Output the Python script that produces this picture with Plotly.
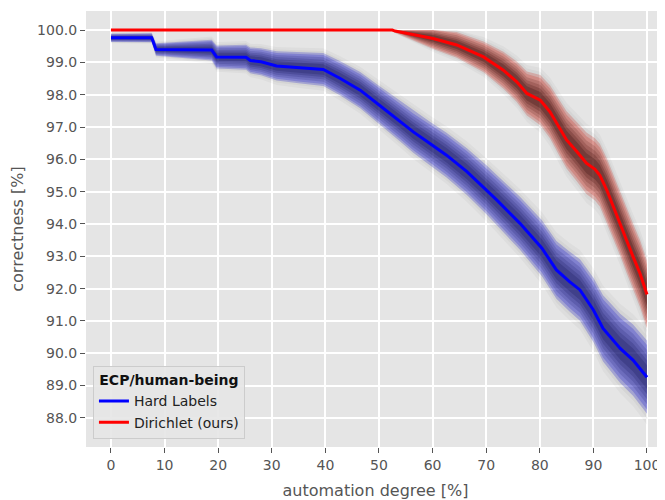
import numpy as np
import plotly.graph_objects as go

# ---- data ----
automation_hard = [0, 7.6, 8.4, 18.8, 19.7, 25.2, 26.0, 28.0, 30.9, 35.0, 39.6, 42.7, 46.5, 50.2,
                   53.9, 56.4, 59.5, 62.6, 66.4, 70.1, 72.0, 76.3, 80.4, 83.1, 85.6, 87.5, 90.0,
                   91.8, 95.0, 97.4, 100]
correct_hard = [99.76, 99.76, 99.40, 99.38, 99.17, 99.16, 99.06, 99.02, 98.89, 98.84, 98.78, 98.51,
                98.14, 97.66, 97.19, 96.85, 96.49, 96.13, 95.62, 95.05, 94.74, 94.02, 93.25, 92.58,
                92.21, 91.96, 91.34, 90.77, 90.15, 89.79, 89.26]
spread_hard = [0.12, 0.13, 0.18, 0.30, 0.33, 0.36, 0.37, 0.39, 0.42, 0.45, 0.47, 0.49, 0.52, 0.55,
               0.58, 0.60, 0.62, 0.64, 0.67, 0.70, 0.72, 0.76, 0.80, 0.83, 0.86, 0.88, 0.92, 0.95,
               0.99, 1.02, 1.05]

automation_dir = [0, 52.5, 53.0, 55.2, 60.1, 64.5, 69.5, 73.2, 75.7, 77.6, 80.1, 81.9, 83.8, 85.0,
                  86.9, 88.7, 90.3, 91.2, 92.5, 93.7, 95.0, 96.2, 97.4, 98.7, 99.7, 100]
correct_dir = [100, 100, 99.97, 99.90, 99.74, 99.54, 99.17, 98.76, 98.40, 98.04, 97.83, 97.47, 96.93,
               96.60, 96.24, 95.88, 95.69, 95.51, 95.05, 94.53, 94.02, 93.50, 92.99, 92.47, 91.95,
               91.82]
spread_dir = [0, 0.02, 0.05, 0.12, 0.30, 0.37, 0.44, 0.53, 0.58, 0.63, 0.72, 0.76, 0.80, 0.82, 0.85,
              0.88, 0.89, 0.90, 0.91, 0.92, 0.93, 0.94, 0.95, 0.96, 0.97, 0.97]

x_ticks = list(range(0, 101, 10))
y_ticks = [88.0 + i for i in range(13)]
y_tick_labels = [f"{v:.1f}" for v in y_ticks]

series_names = ["Hard Labels", "Dirichlet (ours)"]


def band(x, y, hw, scale, cap=100.0):
    y = np.asarray(y, float)
    hw = np.asarray(hw, float) * scale
    up = np.minimum(y + hw, cap)
    lo = y - hw
    return list(x) + list(x)[::-1], list(up) + list(lo)[::-1]


fig = go.Figure()

# (scale, hard colour, dirichlet colour) -- stacked translucent layers give a soft gradient
layers = [
    (1.40, "rgba(0,0,0,0.03)", "rgba(0,0,0,0.03)"),
    (1.22, "rgba(0,0,0,0.04)", "rgba(0,0,0,0.04)"),
    (1.08, "rgba(40,40,200,0.28)", "rgba(200,50,40,0.26)"),
    (0.95, "rgba(40,40,200,0.28)", "rgba(200,50,40,0.26)"),
    (0.80, "rgba(20,20,110,0.18)", "rgba(80,15,10,0.18)"),
    (0.65, "rgba(20,20,100,0.18)", "rgba(70,10,5,0.18)"),
    (0.50, "rgba(10,10,80,0.18)", "rgba(50,5,0,0.2)"),
    (0.35, "rgba(5,5,60,0.18)", "rgba(30,0,0,0.22)"),
]
for xs, ys, hws, idx in [(automation_hard, correct_hard, spread_hard, 1),
                         (automation_dir, correct_dir, spread_dir, 2)]:
    for lay in layers:
        bx, by = band(xs, ys, hws, lay[0])
        fig.add_trace(go.Scatter(x=bx, y=by, fill="toself", fillcolor=lay[idx],
                                 mode="lines", line=dict(width=0), hoverinfo="skip",
                                 showlegend=False))

fig.add_trace(go.Scatter(x=automation_hard, y=correct_hard, mode="lines", name=series_names[0],
                         line=dict(color="#0000FF", width=3)))
fig.add_trace(go.Scatter(x=automation_dir, y=correct_dir, mode="lines", name=series_names[1],
                         line=dict(color="#FF0000", width=3)))

font_family = "DejaVu Sans"
# the page body adds an 8px offset, so the figure is sized to end at the window edge
fig.update_layout(
    width=657, height=492,
    margin=dict(l=78, r=0, t=3, b=53, autoexpand=False),
    paper_bgcolor="white",
    plot_bgcolor="#E5E5E5",
    font=dict(family=font_family, size=14, color="#555555"),
    legend=dict(
        title=dict(text="<b>ECP/human-being</b>", side="top center",
                   font=dict(size=14, color="#111111")),
        x=0.012, y=0.018, xanchor="left", yanchor="bottom",
        bgcolor="rgba(229,229,229,0.9)", bordercolor="#CCCCCC", borderwidth=1,
        font=dict(size=14, color="#222222"),
    ),
    xaxis=dict(
        range=[-4.66, 103.36], tickvals=x_ticks, ticktext=[str(v) for v in x_ticks],
        showgrid=True, gridcolor="white", gridwidth=1.5, zeroline=False,
        ticks="outside", ticklen=5, tickcolor="#555555", tickwidth=1,
        tickfont=dict(size=14, color="#555555"), automargin=False,
        title=dict(text="automation degree [%]", font=dict(size=16, color="#555555")),
        showline=False,
    ),
    yaxis=dict(
        range=[87.10, 100.59], tickvals=y_ticks, ticktext=y_tick_labels,
        showgrid=True, gridcolor="white", gridwidth=1.5, zeroline=False,
        ticks="outside", ticklen=5, tickcolor="#555555", tickwidth=1,
        tickfont=dict(size=14, color="#555555"), automargin=False,
        title=dict(text="correctness [%]", font=dict(size=16, color="#555555")),
        showline=False,
    ),
)

fig.write_html("out.html")
